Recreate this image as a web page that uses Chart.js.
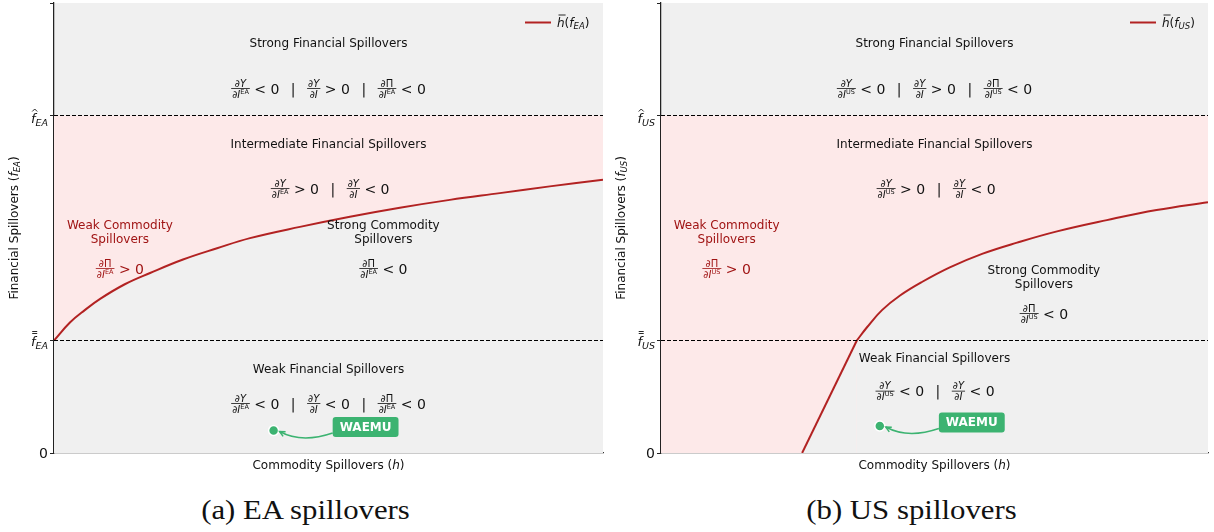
<!DOCTYPE html>
<html>
<head>
<meta charset="utf-8">
<title>EA and US spillovers</title>
<script src="https://cdn.jsdelivr.net/npm/chart.js@4.4.1/dist/chart.umd.min.js"></script>
<style>
  body { margin: 0; background: #fff; }
  #wrap { position: relative; width: 1214px; height: 532px; overflow: hidden; }
  .panel { position: absolute; top: 0; }
  .caption { position: absolute; top: 496px; width: 607px; text-align: center; line-height: 28px;
             font-family: 'Liberation Serif', 'DejaVu Serif', serif; font-size: 28px; color: #111;
             transform: scaleX(1.1); }
</style>
</head>
<body>
<div id="wrap">
  <canvas id="chartEA" class="panel" width="607" height="480" style="left:0"></canvas>
  <canvas id="chartUS" class="panel" width="607" height="480" style="left:607px"></canvas>
  <div class="caption" style="left:2px">(a) EA spillovers</div>
  <div class="caption" style="left:608px">(b) US spillovers</div>
</div>
<script>
// axis ranges and thresholds (same in both panels)
const xMin = 0, xMax = 10;
const yMin = 0, yMax = 4;
const fBarBar = 1;   // lower threshold
const fHat = 3;      // upper threshold
const yTickValues = [0, fBarBar, fHat, yMax];
const yTickLabels = ['0', '=f', '^f', ''];   // '=' double bar, '^' hat, region subscript added

// h-bar(f) curve, EA panel
const eaH = [0, 0.29, 0.56, 0.84, 1.29, 1.75, 2.35, 2.97, 3.57, 4.48, 5.39, 6.30, 7.21, 8.12, 9.03, 10];
const eaF = [1.00, 1.16, 1.27, 1.37, 1.50, 1.60, 1.72, 1.82, 1.91, 2.01, 2.10, 2.18, 2.25, 2.31, 2.37, 2.43];

// US panel: straight ramp up to f-bar-bar, then the concave part
const usRampH = [2.58, 3.58];
const usRampF = [0, 1.00];
const usH = [3.58, 3.77, 4.04, 4.37, 4.77, 5.28, 5.87, 6.51, 7.24, 8.15, 9.06, 10];
const usF = [1.00, 1.12, 1.27, 1.40, 1.52, 1.65, 1.77, 1.87, 1.97, 2.07, 2.16, 2.23];

// WAEMU (h, f)
const waemuEA = [4.0, 0.20];
const waemuUS = [4.0, 0.24];

const GRAY = '#f0f0f0', PINK = '#fde9e9', RED = '#b22222', DARKRED = '#a01414', GREEN = '#3cb371';
const FONT = "'DejaVu Sans', Verdana, sans-serif";

const pts = (xs, ys) => xs.map((x, i) => ({ x: x, y: ys[i] }));

// --- little math text helpers ---
function P(t, s, o) { return Object.assign({ t: t, s: s }, o || {}); }
function setFont(ctx, p) { ctx.font = (p.i ? 'italic ' : '') + (p.b ? 'bold ' : '') + p.s + 'px ' + FONT; }
function pieceWidth(ctx, p) {
    if (p.g) return p.g;
    setFont(ctx, p);
    return ctx.measureText(p.t).width;
}
function runWidth(ctx, run) {
    return run.reduce((w, p) => w + pieceWidth(ctx, p), 0);
}
function drawRun(ctx, run, x, y) {
    run.forEach(p => {
        if (!p.g) { setFont(ctx, p); ctx.fillText(p.t, x, y + (p.dy || 0)); }
        x += pieceWidth(ctx, p);
    });
    return x;
}
const dY = () => [P('∂', 10), P('Y', 10, { i: true })];
const dPi = () => [P('∂Π', 10)];
const dI = sup => sup ? [P('∂', 10), P('I', 10, { i: true }), P(sup, 6.5, { dy: -4 })] : [P('∂', 10), P('I', 10, { i: true })];
const frac = (n, d) => ({ n: n, d: d });
const rel = t => ({ r: [P(t, 14)] });
const sep = () => ({ r: [{ g: 11.5 }, P('|', 14), { g: 11.5 }] });

function itemWidth(ctx, it) {
    return it.r ? runWidth(ctx, it.r) : Math.max(runWidth(ctx, it.n), runWidth(ctx, it.d)) + 2;
}
function drawMath(ctx, items, cx, cy, color) {
    ctx.fillStyle = color;
    ctx.textAlign = 'left';
    ctx.textBaseline = 'alphabetic';
    const total = items.reduce((s, it) => s + itemWidth(ctx, it), 0);
    let x = cx - total / 2;
    items.forEach(it => {
        const w = itemWidth(ctx, it);
        if (it.r) {
            drawRun(ctx, it.r, x, cy + 5);
        } else {
            drawRun(ctx, it.n, x + (w - runWidth(ctx, it.n)) / 2, cy - 2);
            drawRun(ctx, it.d, x + (w - runWidth(ctx, it.d)) / 2, cy + 9);
            ctx.fillRect(x, cy - 0.4, w, 0.8);
        }
        x += w;
    });
}
function drawLines(ctx, lines, cx, cy, color) {
    ctx.font = '12px ' + FONT;
    ctx.fillStyle = color;
    ctx.textAlign = 'center';
    ctx.textBaseline = 'middle';
    lines.forEach((l, i) => ctx.fillText(l, cx, cy + (i - (lines.length - 1) / 2) * 14));
}

function notesFor(r, usLayout) {
    const k = usLayout;
    return [
        { x: 5, y: 3.64, text: ['Strong Financial Spillovers'] },
        { x: 5, y: 3.24, math: [frac(dY(), dI(r)), rel(' < 0'), sep(), frac(dY(), dI()), rel(' > 0'), sep(), frac(dPi(), dI(r)), rel(' < 0')] },
        { x: 5, y: 2.74, text: ['Intermediate Financial Spillovers'] },
        { x: 5.03, y: 2.35, math: [frac(dY(), dI(r)), rel(' > 0'), sep(), frac(dY(), dI()), rel(' < 0')] },
        { x: 1.2, y: 1.96, text: ['Weak Commodity', 'Spillovers'], color: DARKRED },
        { x: 1.2, y: 1.64, math: [frac(dPi(), dI(r)), rel(' > 0')], color: DARKRED },
        { x: k ? 7.0 : 6.0, y: k ? 1.56 : 1.96, text: ['Strong Commodity', 'Spillovers'] },
        { x: k ? 7.0 : 6.0, y: k ? 1.24 : 1.64, math: [frac(dPi(), dI(r)), rel(' < 0')] },
        { x: 5, y: k ? 0.84 : 0.74, text: ['Weak Financial Spillovers'] },
        k ? { x: 5.01, y: 0.55, math: [frac(dY(), dI(r)), rel(' < 0'), sep(), frac(dY(), dI()), rel(' < 0')] }
          : { x: 5, y: 0.44, math: [frac(dY(), dI(r)), rel(' < 0'), sep(), frac(dY(), dI()), rel(' < 0'), sep(), frac(dPi(), dI(r)), rel(' < 0')] }
    ];
}

const decor = {
    id: 'decor',
    beforeDraw(chart) {
        const { ctx, chartArea: ca } = chart;
        ctx.save();
        ctx.fillStyle = GRAY;
        ctx.fillRect(ca.left, ca.top, ca.right - ca.left, ca.bottom - ca.top);
        ctx.restore();
    },
    afterDraw(chart, args, opts) {
        const { ctx, chartArea: ca, scales } = chart;
        const r = opts.region;
        ctx.save();

        // y tick labels
        yTickValues.forEach((v, i) => {
            const lab = yTickLabels[i];
            if (!lab) return;
            const py = scales.y.getPixelForValue(v);
            const right = ca.left - 6;
            ctx.fillStyle = '#111';
            ctx.textBaseline = 'alphabetic';
            if (lab === '0') {
                ctx.font = '14px ' + FONT;
                ctx.textAlign = 'right';
                ctx.fillText('0', right, py + 5);
                return;
            }
            const run = [P('f', 13, { i: true }), P(r, 9.5, { i: true, dy: 3 })];
            const x0 = right - runWidth(ctx, run);
            const base = py + (lab[0] === '^' ? 7 : 5);
            ctx.textAlign = 'left';
            drawRun(ctx, run, x0, base);
            setFont(ctx, run[0]);
            const ax = x0 + ctx.measureText('f').width / 2 + 1.5;
            ctx.strokeStyle = '#111';
            ctx.lineWidth = 0.9;
            ctx.beginPath();
            if (lab[0] === '^') {
                ctx.moveTo(ax - 2.5, base - 11);
                ctx.lineTo(ax, base - 13.5);
                ctx.lineTo(ax + 2.5, base - 11);
            } else {
                ctx.moveTo(ax - 2.5, base - 12); ctx.lineTo(ax + 2.5, base - 12);
                ctx.moveTo(ax - 2.5, base - 14); ctx.lineTo(ax + 2.5, base - 14);
            }
            ctx.stroke();
        });

        // axis titles
        ctx.fillStyle = '#111';
        ctx.textAlign = 'left';
        ctx.textBaseline = 'middle';
        const xt = [P('Commodity Spillovers (', 12), P('h', 12, { i: true }), P(')', 12)];
        drawRun(ctx, xt, (ca.left + ca.right) / 2 - runWidth(ctx, xt) / 2, ca.bottom + 13);
        const yt = [P('Financial Spillovers (', 12), P('f', 12, { i: true }), P(r, 8.5, { i: true, dy: 2.5 }), P(')', 12)];
        ctx.translate(15, (ca.top + ca.bottom) / 2);
        ctx.rotate(-Math.PI / 2);
        drawRun(ctx, yt, -runWidth(ctx, yt) / 2, 0);
        ctx.setTransform(1, 0, 0, 1, 0, 0);

        // legend
        const ly = ca.top + 19.5;
        ctx.strokeStyle = RED;
        ctx.lineWidth = 2;
        ctx.beginPath();
        ctx.moveTo(ca.right - 78, ly); ctx.lineTo(ca.right - 52, ly);
        ctx.stroke();
        ctx.fillStyle = '#111';
        ctx.textBaseline = 'alphabetic';
        const lx = ca.right - 46;
        const lt = [P('h', 12, { i: true }), P('(', 12), P('f', 12, { i: true }), P(r, 8.5, { i: true, dy: 2.5 }), P(')', 12)];
        drawRun(ctx, lt, lx, ly + 4);
        setFont(ctx, lt[0]);
        const hw = ctx.measureText('h').width;
        ctx.strokeStyle = '#111';
        ctx.lineWidth = 0.9;
        ctx.beginPath();
        ctx.moveTo(lx + 1.5, ly - 7.5); ctx.lineTo(lx + hw + 1, ly - 7.5);
        ctx.stroke();

        // region notes
        opts.notes.forEach(n => {
            const cx = scales.x.getPixelForValue(n.x), cy = scales.y.getPixelForValue(n.y);
            if (n.text) drawLines(ctx, n.text, cx, cy, n.color || '#111');
            else drawMath(ctx, n.math, cx, cy, n.color || '#111');
        });

        // WAEMU label and arrow
        const px = scales.x.getPixelForValue(opts.waemu[0]), py = scales.y.getPixelForValue(opts.waemu[1]);
        const bx = px + 92, by = py - 3.5;
        ctx.font = 'bold 12px ' + FONT;
        const bw = ctx.measureText('WAEMU').width + 14, bh = 20;
        ctx.strokeStyle = GREEN;
        ctx.lineWidth = 1.5;
        const sx = bx - bw / 2, sy = by + 6, cxp = px + 28, cyp = py + 13, ex = px + 6, ey = py + 1;
        ctx.beginPath();
        ctx.moveTo(sx, sy);
        ctx.quadraticCurveTo(cxp, cyp, ex, ey);
        ctx.stroke();
        const a = Math.atan2(ey - cyp, ex - cxp);
        ctx.beginPath();
        ctx.moveTo(ex - 6 * Math.cos(a - 0.45), ey - 6 * Math.sin(a - 0.45));
        ctx.lineTo(ex, ey);
        ctx.lineTo(ex - 6 * Math.cos(a + 0.45), ey - 6 * Math.sin(a + 0.45));
        ctx.stroke();
        ctx.fillStyle = GREEN;
        ctx.beginPath();
        if (ctx.roundRect) ctx.roundRect(bx - bw / 2, by - bh / 2, bw, bh, 3);
        else ctx.rect(bx - bw / 2, by - bh / 2, bw, bh);
        ctx.fill();
        ctx.fillStyle = '#fff';
        ctx.textAlign = 'center';
        ctx.textBaseline = 'middle';
        ctx.fillText('WAEMU', bx, by + 0.5);

        ctx.restore();
    }
};

function makeChart(id, region, curves, waemu, notes, padRight) {
    const datasets = [
        { label: 'WAEMU', data: pts([waemu[0]], [waemu[1]]), showLine: false, pointRadius: 5,
          pointBackgroundColor: GREEN, pointBorderColor: '#fff', pointBorderWidth: 1.5 },
        { label: 'f double bar', data: pts([xMin, xMax], [fBarBar, fBarBar]), borderColor: '#000',
          borderWidth: 1, borderDash: [4, 2], pointRadius: 0, fill: false }
    ];
    curves.forEach(c => datasets.push({
        label: 'h bar', data: pts(c.h, c.f), borderColor: RED, borderWidth: 2, pointRadius: 0,
        fill: 'origin', backgroundColor: GRAY, tension: c.smooth ? 0.4 : 0
    }));
    datasets.push({ label: 'f hat', data: pts([xMin, xMax], [fHat, fHat]), borderColor: '#000',
        borderWidth: 1, borderDash: [4, 2], pointRadius: 0, fill: 'origin', backgroundColor: PINK });

    return new Chart(document.getElementById(id).getContext('2d'), {
        type: 'line',
        data: { datasets: datasets },
        options: {
            responsive: false,
            animation: false,
            events: [],
            layout: { autoPadding: false, padding: { top: 3, right: padRight, left: 0, bottom: 0 } },
            plugins: {
                legend: { display: false },
                tooltip: { enabled: false },
                decor: { region: region, notes: notes, waemu: waemu }
            },
            scales: {
                x: {
                    type: 'linear', min: xMin, max: xMax, z: 1,
                    ticks: { display: false },
                    grid: { display: false },
                    border: { display: true, color: '#333', width: 1.25 },
                    afterFit: s => { s.height = 27; }
                },
                y: {
                    type: 'linear', min: yMin, max: yMax, z: 1,
                    afterBuildTicks: s => { s.ticks = yTickValues.map(v => ({ value: v })); },
                    ticks: { display: false },
                    grid: { display: true, drawOnChartArea: false, drawTicks: true, tickLength: 4, color: '#222', lineWidth: 1 },
                    border: { display: true, color: '#222', width: 1.25 },
                    afterFit: s => { s.width = 54; }
                }
            }
        },
        plugins: [decor]
    });
}

makeChart('chartEA', 'EA', [{ h: eaH, f: eaF, smooth: true }], waemuEA, notesFor('EA', false), 4);
makeChart('chartUS', 'US', [{ h: usRampH, f: usRampF, smooth: false }, { h: usH, f: usF, smooth: true }],
          waemuUS, notesFor('US', true), 6);
</script>
</body>
</html>
